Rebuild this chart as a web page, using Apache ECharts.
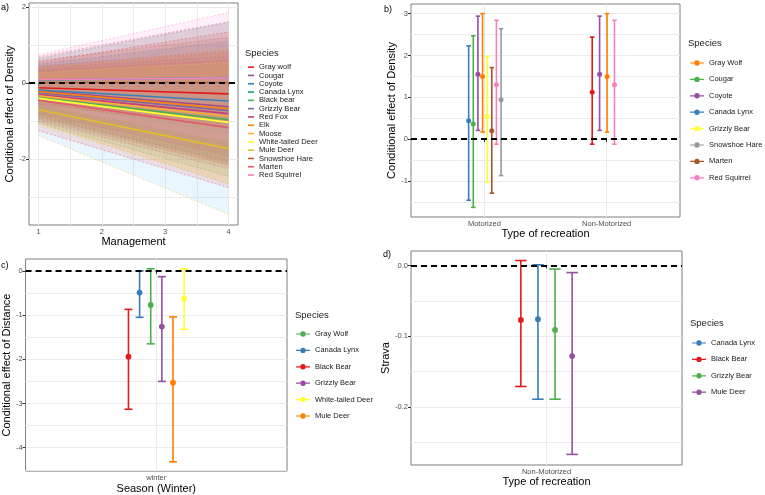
<!DOCTYPE html>
<html>
<head>
<meta charset="utf-8">
<script src="https://cdn.jsdelivr.net/npm/echarts@6/dist/echarts.min.js"></script>
<style>
  html, body { margin: 0; padding: 0; background: #fff; }
  #chart { width: 765px; height: 495px; }
</style>
</head>
<body>
<div id="chart"></div>
<script>
// a) density effect across management levels (value at management 1 and 4)
const managementX = [1, 4];
const speciesA = ['Gray wolf', 'Cougar', 'Coyote', 'Canada Lynx', 'Black bear', 'Grizzly Bear', 'Red Fox', 'Elk', 'Moose', 'White-tailed Deer', 'Mule Deer', 'Snowshoe Hare', 'Marten', 'Red Squirrel'];
const meanStartA = [-0.12, -0.20, -0.18, 0.08, -0.38, -0.25, -0.30, -0.22, -0.33, -0.40, -0.70, 0.02, -0.45, 0.09];
const meanEndA = [-0.28, -0.62, -0.47, 0.15, -0.96, -0.72, -0.80, -0.67, -0.87, -1.03, -1.72, 0.02, -1.17, 0.14];
const lowStartA = [-0.80, -0.85, -0.90, -0.50, -1.05, -0.95, -1.00, -0.88, -1.05, -1.10, -1.38, -0.55, -1.25, -0.55];
const lowEndA = [-1.90, -2.10, -2.05, -1.30, -2.45, -2.15, -2.25, -2.15, -2.65, -2.62, -3.45, -1.15, -2.75, -1.55];
const highStartA = [0.55, 0.45, 0.50, 0.65, 0.30, 0.40, 0.35, 0.42, 0.38, 0.28, 0.05, 0.60, 0.70, 0.75];
const highEndA = [1.35, 0.85, 1.10, 1.60, 0.50, 0.70, 0.60, 0.80, 0.90, 0.55, 0.20, 1.20, 1.62, 1.86];

// b) density effect by type of recreation
const recreationTypes = ['Motorized', 'Non-Motorized'];
const motorizedSpecies = ['Canada Lynx', 'Cougar', 'Coyote', 'Gray Wolf', 'Grizzly Bear', 'Marten', 'Red Squirrel', 'Snowshoe Hare'];
const motorizedMean = [0.44, 0.36, 1.55, 1.50, 0.54, 0.20, 1.30, 0.94];
const motorizedLow = [-1.46, -1.63, 0.21, 0.17, -1.03, -1.29, -0.12, -0.87];
const motorizedHigh = [2.23, 2.47, 2.94, 3.00, 1.98, 1.71, 2.84, 2.64];
const nonMotorizedSpecies = ['Black Bear', 'Coyote', 'Gray Wolf', 'Red Squirrel'];
const nonMotorizedMean = [1.12, 1.55, 1.50, 1.30];
const nonMotorizedLow = [-0.12, 0.21, 0.17, -0.12];
const nonMotorizedHigh = [2.44, 2.94, 3.00, 2.84];
const legendB = ['Gray Wolf', 'Cougar', 'Coyote', 'Canada Lynx', 'Grizzly Bear', 'Snowshoe Hare', 'Marten', 'Red Squirrel'];

// c) distance effect in winter
const seasons = ['winter'];
const winterSpecies = ['Black Bear', 'Canada Lynx', 'Gray Wolf', 'Grizzly Bear', 'Mule Deer', 'White-tailed Deer'];
const winterMean = [-1.94, -0.49, -0.77, -1.26, -2.53, -0.63];
const winterLow = [-3.13, -1.05, -1.65, -2.50, -4.32, -1.32];
const winterHigh = [-0.87, 0.00, 0.05, -0.13, -1.04, 0.05];
const legendC = ['Gray Wolf', 'Canada Lynx', 'Black Bear', 'Grizzly Bear', 'White-tailed Deer', 'Mule Deer'];

// d) strava effect, non-motorized
const stravaTypes = ['Non-Motorized'];
const stravaSpecies = ['Black Bear', 'Canada Lynx', 'Grizzly Bear', 'Mule Deer'];
const stravaMean = [-0.077, -0.076, -0.091, -0.128];
const stravaLow = [-0.171, -0.189, -0.189, -0.267];
const stravaHigh = [0.007, 0.001, -0.005, -0.010];
const legendD = ['Canada Lynx', 'Black Bear', 'Grizzly Bear', 'Mule Deer'];

// colours
const lineColorsA = ['#e41a1c', '#9b4f8f', '#3a7fb8', '#1f9e89', '#4daf4a', '#7b68a6', '#c2417a', '#ff7f00', '#fdae31', '#ffff33', '#e2bd2a', '#c1662b', '#e4576b', '#f781bf'];
const fillColorsA = ['#e41a1c', '#9b4f8f', '#3a7fb8', '#1f9e89', '#4daf4a', '#7b68a6', '#c2417a', '#ff7f00', '#fdae31', '#ffff33', '#7cc8f0', '#c1662b', '#e4576b', '#f6a0e8'];
const colorsB = { 'Gray Wolf': '#ff7f00', 'Cougar': '#4daf4a', 'Coyote': '#984ea3', 'Canada Lynx': '#377eb8', 'Grizzly Bear': '#ffff33', 'Snowshoe Hare': '#999999', 'Marten': '#a65628', 'Red Squirrel': '#f781bf', 'Black Bear': '#e41a1c' };
const colorsC = { 'Gray Wolf': '#4daf4a', 'Canada Lynx': '#377eb8', 'Black Bear': '#e41a1c', 'Grizzly Bear': '#984ea3', 'White-tailed Deer': '#ffff33', 'Mule Deer': '#ff7f00' };
const colorsD = { 'Canada Lynx': '#377eb8', 'Black Bear': '#e41a1c', 'Grizzly Bear': '#4daf4a', 'Mule Deer': '#984ea3' };

const FONT = 'Liberation Sans, Arial, sans-serif';
const GRID_LINE = '#ebebeb';

function withMinor(ticks, step) {
    const out = [];
    ticks.forEach(t => { out.push(t); out.push(t - step / 2); out.push(t + step / 2); });
    return out;
}

// every panel gets a visible axis (labels, ticks) and a bare one that only draws grid lines
function xAxes(grid, min, max, labels, lines, formatter, name, nameGap) {
    return [{
        type: 'value', gridIndex: grid, position: 'bottom', min, max,
        axisLine: { show: false },
        axisTick: { show: true, length: 3, lineStyle: { color: '#333' }, customValues: labels },
        axisLabel: { customValues: labels, formatter, color: '#4d4d4d', fontSize: 7.5, fontFamily: FONT, margin: 3 },
        splitLine: { show: false },
        name, nameLocation: 'middle', nameGap,
        nameTextStyle: { fontSize: 11, color: '#000', fontFamily: FONT }
    }, {
        type: 'value', gridIndex: grid, position: 'top', min, max,
        axisLine: { show: false },
        axisTick: { show: false, customValues: lines },
        axisLabel: { show: false },
        splitLine: { show: true, lineStyle: { color: GRID_LINE, width: 1 } }
    }];
}

function yAxes(grid, min, max, labels, lines, formatter, name, nameGap) {
    return [{
        type: 'value', gridIndex: grid, position: 'left', min, max,
        axisLine: { show: false },
        axisTick: { show: true, length: 3, lineStyle: { color: '#333' }, customValues: labels },
        axisLabel: { customValues: labels, formatter, color: '#4d4d4d', fontSize: 7.5, fontFamily: FONT, margin: 3 },
        splitLine: { show: false },
        name, nameLocation: 'middle', nameGap,
        nameTextStyle: { fontSize: 11, color: '#000', fontFamily: FONT }
    }, {
        type: 'value', gridIndex: grid, position: 'right', min, max,
        axisLine: { show: false },
        axisTick: { show: false, customValues: lines },
        axisLabel: { show: false },
        splitLine: { show: true, lineStyle: { color: GRID_LINE, width: 1 } }
    }];
}

function zeroLine(grid) {
    return {
        type: 'line', xAxisIndex: grid * 2, yAxisIndex: grid * 2, data: [], z: 10, silent: true,
        markLine: {
            silent: true, symbol: 'none', label: { show: false },
            lineStyle: { color: '#000', type: [6, 4], width: 1.8 },
            data: [{ yAxis: 0 }]
        }
    };
}

function errorBars(name, color, items, grid, capWidth, radius) {
    return {
        type: 'custom', name, xAxisIndex: grid * 2, yAxisIndex: grid * 2, z: 4,
        itemStyle: { color }, data: items,
        renderItem: (params, api) => {
            const x = api.value(0);
            const mid = api.coord([x, api.value(1)]);
            const lo = api.coord([x, api.value(2)]);
            const hi = api.coord([x, api.value(3)]);
            const px = mid[0] + api.value(4);
            const st = { stroke: color, lineWidth: 1.6 };
            return {
                type: 'group', children: [
                    { type: 'line', shape: { x1: px, y1: hi[1], x2: px, y2: lo[1] }, style: st },
                    { type: 'line', shape: { x1: px - capWidth / 2, y1: hi[1], x2: px + capWidth / 2, y2: hi[1] }, style: st },
                    { type: 'line', shape: { x1: px - capWidth / 2, y1: lo[1], x2: px + capWidth / 2, y2: lo[1] }, style: st },
                    { type: 'circle', shape: { cx: px, cy: mid[1], r: radius }, style: { fill: color } }
                ]
            };
        }
    };
}

// pixel dodge inside each category
function dodge(i, n, spacing, shift) { return (i - (n - 1) / 2) * spacing + shift; }

const series = [];

// panel a: ribbons, then mean lines
series.push({
    type: 'custom', xAxisIndex: 0, yAxisIndex: 0, silent: true, z: 2,
    data: speciesA.map((s, i) => [lowStartA[i], lowEndA[i], highStartA[i], highEndA[i]]),
    renderItem: (params, api) => {
        const i = params.dataIndex;
        const l0 = api.coord([managementX[0], api.value(0)]);
        const l1 = api.coord([managementX[1], api.value(1)]);
        const h0 = api.coord([managementX[0], api.value(2)]);
        const h1 = api.coord([managementX[1], api.value(3)]);
        const dash = { stroke: lineColorsA[i], lineWidth: 0.7, lineDash: [2, 2], opacity: 0.6, fill: null };
        return {
            type: 'group', children: [
                { type: 'polygon', shape: { points: [l0, l1, h1, h0] }, style: { fill: fillColorsA[i], opacity: 0.16 } },
                { type: 'polyline', shape: { points: [l0, l1] }, style: dash },
                { type: 'polyline', shape: { points: [h0, h1] }, style: dash }
            ]
        };
    }
});
speciesA.forEach((name, i) => {
    series.push({
        type: 'line', name, xAxisIndex: 0, yAxisIndex: 0, z: 3, symbol: 'none', silent: true,
        data: [[managementX[0], meanStartA[i]], [managementX[1], meanEndA[i]]],
        lineStyle: { color: lineColorsA[i], width: 1.6 }, itemStyle: { color: lineColorsA[i] }
    });
});
series.push(zeroLine(0));

// panel b
const allB = Array.from(new Set([...motorizedSpecies, ...nonMotorizedSpecies]));
allB.forEach(name => {
    const items = [];
    const m = motorizedSpecies.indexOf(name);
    if (m >= 0) items.push([1, motorizedMean[m], motorizedLow[m], motorizedHigh[m], dodge(m, motorizedSpecies.length, 4.63, 0.5)]);
    const n = nonMotorizedSpecies.indexOf(name);
    if (n >= 0) items.push([2, nonMotorizedMean[n], nonMotorizedLow[n], nonMotorizedHigh[n], dodge(n, nonMotorizedSpecies.length, 7.43, -3.3)]);
    series.push(errorBars(name, colorsB[name], items, 1, 4.5, 2.5));
});
series.push(zeroLine(1));

// panel c
winterSpecies.forEach((name, i) => {
    series.push(errorBars(name, colorsC[name],
        [[1, winterMean[i], winterLow[i], winterHigh[i], dodge(i, winterSpecies.length, 11.13, 0)]], 2, 8, 2.9));
});
series.push(zeroLine(2));

// panel d
stravaSpecies.forEach((name, i) => {
    series.push(errorBars(name, colorsD[name],
        [[1, stravaMean[i], stravaLow[i], stravaHigh[i], dodge(i, stravaSpecies.length, 17.1, 0)]], 3, 11.5, 2.9));
});
series.push(zeroLine(3));

// key: short bar on each side of a filled dot
const pointIcon = 'path://M0,2.4h4.4v1.2h-4.4z M9.6,2.4h4.4v1.2h-4.4z M4.3,3a2.7,2.7 0 1,0 5.4,0a2.7,2.7 0 1,0 -5.4,0z';
function pointLegend(names, colors, left, top) {
    return {
        orient: 'vertical', left, top, itemGap: 6.4, itemWidth: 14, itemHeight: 5.4, padding: 0,
        selectedMode: false, icon: pointIcon,
        textStyle: { fontSize: 7.5, color: '#1a1a1a', fontFamily: FONT, lineHeight: 10 },
        data: names.map(n => ({ name: n, icon: pointIcon, itemStyle: { color: colors[n] } }))
    };
}

const titleStyle = { fontSize: 9, fontWeight: 'normal', color: '#000', fontFamily: FONT };
const speciesStyle = { fontSize: 9.5, fontWeight: 'normal', color: '#1a1a1a', fontFamily: FONT };

const chart = echarts.init(document.getElementById('chart'));
chart.setOption({
    animation: false,
    backgroundColor: '#fff',
    textStyle: { fontFamily: FONT },
    title: [
        { text: 'a)', left: 1, top: 3, padding: 0, textStyle: titleStyle },
        { text: 'b)', left: 384, top: 5, padding: 0, textStyle: titleStyle },
        { text: 'c)', left: 1, top: 261, padding: 0, textStyle: titleStyle },
        { text: 'd)', left: 383, top: 250, padding: 0, textStyle: titleStyle },
        { text: 'Species', left: 245, top: 48, padding: 0, textStyle: speciesStyle },
        { text: 'Species', left: 688, top: 38, padding: 0, textStyle: speciesStyle },
        { text: 'Species', left: 295, top: 310, padding: 0, textStyle: speciesStyle },
        { text: 'Species', left: 690, top: 318, padding: 0, textStyle: speciesStyle }
    ],
    grid: [
        { left: 29, top: 3, width: 209, height: 222, show: true, borderColor: '#7f7f7f', borderWidth: 1, backgroundColor: '#fff' },
        { left: 411, top: 4, width: 269, height: 213, show: true, borderColor: '#7f7f7f', borderWidth: 1, backgroundColor: '#fff' },
        { left: 23, top: 259, width: 264, height: 213, show: true, borderColor: '#7f7f7f', borderWidth: 1, backgroundColor: '#fff' },
        { left: 411, top: 251, width: 271, height: 214, show: true, borderColor: '#7f7f7f', borderWidth: 1, backgroundColor: '#fff' }
    ],
    xAxis: [
        ...xAxes(0, 0.85, 4.15, [1, 2, 3, 4], withMinor([1, 2, 3, 4], 1), v => String(v), 'Management', 9.5),
        ...xAxes(1, 0.4, 2.6, [1, 2], [1, 2], v => recreationTypes[v - 1], 'Type of recreation', 10.5),
        ...xAxes(2, 0.4, 1.6, [1], [1], v => seasons[v - 1], 'Season (Winter)', 10.5),
        ...xAxes(3, 0.4, 1.6, [1], [1], v => stravaTypes[v - 1], 'Type of recreation', 9.5)
    ],
    yAxis: [
        ...yAxes(0, -3.73, 2.11, [-2, 0, 2], withMinor([-2, 0, 2], 2), v => String(v), 'Conditional effect of Density', 12.5),
        ...yAxes(1, -1.86, 3.23, [-1, 0, 1, 2, 3], withMinor([-1, 0, 1, 2, 3], 1), v => String(v), 'Conditional effect of Density', 8.5),
        ...yAxes(2, -4.53, 0.27, [-4, -3, -2, -1, 0], withMinor([-4, -3, -2, -1, 0], 1), v => String(v), 'Conditional effect of Distance', 10.5),
        ...yAxes(3, -0.282, 0.0205, [-0.2, -0.1, 0], withMinor([-0.2, -0.1, 0], 0.1), v => Number(v).toFixed(1), 'Strava', 18.5)
    ],
    legend: [
        {
            orient: 'vertical', left: 248, top: 63, itemGap: 0, itemWidth: 6, itemHeight: 1.6, padding: 0,
            selectedMode: false, icon: 'rect',
            textStyle: { fontSize: 7.6, color: '#1a1a1a', fontFamily: FONT, lineHeight: 8.3 },
            data: speciesA.map((n, i) => ({ name: n, icon: 'rect', itemStyle: { color: lineColorsA[i] } }))
        },
        pointLegend(legendB, colorsB, 690, 58),
        pointLegend(legendC, colorsC, 296, 329),
        pointLegend(legendD, colorsD, 692, 338)
    ],
    series
});
</script>
</body>
</html>
